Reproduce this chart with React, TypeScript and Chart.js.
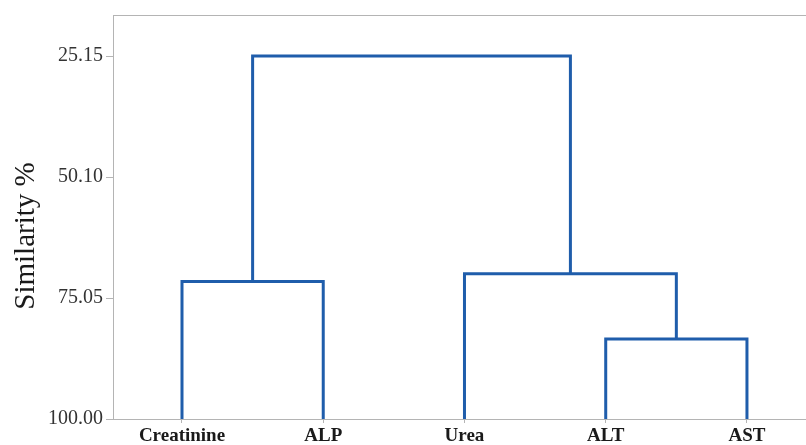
import React, { useEffect, useRef } from "react";
import { Chart, registerables } from "chart.js";

Chart.register(...registerables);

// Leaves of the dendrogram, in drawn order
const leaves = ["Creatinine", "ALP", "Urea", "ALT", "AST"];
// Merges: indices 0-4 are leaves, 5+ are clusters created by earlier merges
const mergeLeft = [3, 0, 2, 6];
const mergeRight = [4, 1, 5, 7];
const mergeSimilarity = [83.5, 71.65, 70.05, 25.15];
// Y tick values
const yTickValues = [25.15, 50.1, 75.05, 100.0];
const yTitle = "Similarity %";

const LINE_COLOR = "#1f5dab";
const AXIS_COLOR = "#b4b4b4";
const FONT = '"Liberation Serif", "Times New Roman", serif';

function buildDatasets() {
  const xs: number[] = leaves.map((_, i) => i + 1);
  const ys: number[] = leaves.map(() => 100);
  const datasets: any[] = [];
  mergeLeft.forEach((a, k) => {
    const b = mergeRight[k];
    const h = mergeSimilarity[k];
    datasets.push({
      label: "merge" + k,
      data: [
        { x: xs[a], y: ys[a] },
        { x: xs[a], y: h },
        { x: xs[b], y: h },
        { x: xs[b], y: ys[b] },
      ],
      showLine: true,
      borderColor: LINE_COLOR,
      backgroundColor: LINE_COLOR,
      borderWidth: 3,
      pointRadius: 0,
      pointHoverRadius: 0,
      fill: false,
      tension: 0,
    });
    xs.push((xs[a] + xs[b]) / 2);
    ys.push(h);
  });
  return datasets;
}

const titlePlugin = {
  id: "yTitlePlugin",
  afterDraw(chart: any) {
    const ctx = chart.ctx;
    const area = chart.chartArea;
    ctx.save();
    ctx.translate(26, (area.top + area.bottom) / 2 + 19);
    ctx.rotate(-Math.PI / 2);
    ctx.textAlign = "center";
    ctx.textBaseline = "middle";
    ctx.font = "29px " + FONT;
    ctx.fillStyle = "#1a1a1a";
    ctx.fillText(yTitle, 0, 0);
    ctx.restore();
  },
};

export default function App() {
  const ref = useRef<HTMLCanvasElement | null>(null);

  useEffect(() => {
    if (!ref.current) return;
    const xMin = 0.5115;
    const xMax = 5.418;
    const chart = new Chart(ref.current, {
      type: "scatter",
      data: { datasets: buildDatasets() },
      plugins: [titlePlugin],
      options: {
        animation: false,
        responsive: false,
        devicePixelRatio: 1,
        layout: { padding: { top: 15, left: 0, right: 0, bottom: 0 } },
        plugins: { legend: { display: false }, tooltip: { enabled: false } },
        scales: {
          x: {
            type: "linear",
            position: "bottom",
            min: xMin,
            max: xMax,
            afterBuildTicks: (scale: any) => {
              scale.ticks = leaves.map((_, i) => ({ value: i + 1 }));
            },
            afterFit: (scale: any) => {
              scale.height = 26;
            },
            ticks: {
              callback: (v: any) => leaves[Math.round(Number(v)) - 1] ?? "",
              font: { family: FONT, size: 19, weight: "bold" },
              color: "#1a1a1a",
              padding: 2,
              maxRotation: 0,
              autoSkip: false,
            },
            grid: {
              drawOnChartArea: false,
              drawTicks: true,
              tickLength: 4,
              color: AXIS_COLOR,
            },
            border: { display: true, color: AXIS_COLOR, width: 1 },
          },
          x2: {
            type: "linear",
            position: "top",
            min: xMin,
            max: xMax,
            afterFit: (scale: any) => {
              scale.height = 0;
            },
            ticks: { display: false },
            grid: { display: true, drawOnChartArea: false, drawTicks: false, color: AXIS_COLOR },
            border: { display: true, color: AXIS_COLOR, width: 1 },
          },
          y: {
            type: "linear",
            reverse: true,
            min: 16.68,
            max: 100,
            afterBuildTicks: (scale: any) => {
              scale.ticks = yTickValues.map((v) => ({ value: v }));
            },
            afterFit: (scale: any) => {
              scale.width = 113;
            },
            ticks: {
              callback: (v: any) => Number(v).toFixed(2),
              font: { family: FONT, size: 20 },
              color: "#333333",
              padding: 3,
            },
            grid: {
              drawOnChartArea: false,
              drawTicks: true,
              tickLength: 7,
              color: AXIS_COLOR,
            },
            border: { display: true, color: AXIS_COLOR, width: 1 },
          },
        },
      } as any,
    });
    return () => chart.destroy();
  }, []);

  return (
    <div style={{ position: "absolute", left: 0, top: 0, width: 806, height: 445, background: "#fff" }}>
      <canvas ref={ref} width={806} height={445} style={{ width: 806, height: 445, display: "block" }} />
    </div>
  );
}
